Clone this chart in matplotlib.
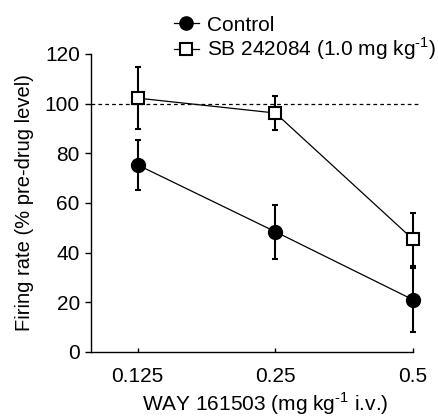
import matplotlib.pyplot as plt
from matplotlib.lines import Line2D

plt.rcParams["font.family"] = ["Liberation Sans", "DejaVu Sans"]
plt.rcParams["mathtext.fontset"] = "custom"
plt.rcParams["mathtext.rm"] = "Liberation Sans"

# -----------------------------
# Data
# -----------------------------
doses = ["0.125", "0.25", "0.5"]
control_mean = [75.3, 48.4, 21.0]
control_sem = [10.2, 10.9, 12.8]
sb_mean = [102.2, 96.2, 45.3]
sb_sem = [12.6, 7.0, 10.6]

FS = 15

# -----------------------------
# Plot
# -----------------------------
fig = plt.figure(figsize=(4.39, 4.18), dpi=100)
ax = fig.add_axes([0.207, 0.158, 0.734, 0.713])

x = list(range(1, len(doses) + 1))

ax.plot([0.66, 3.04], [100, 100], ls=(0, (3, 2.5)), color="black", lw=0.9, clip_on=False)

for mean, sem, fmt, mfc, ms, z in [
    (control_mean, control_sem, "-o", "black", 9.5, 3),
    (sb_mean, sb_sem, "-s", "white", 9, 4),
]:
    cont = ax.errorbar(x, mean, yerr=sem, fmt=fmt, color="black",
                       lw=0.9, elinewidth=1.5, capsize=2.2, capthick=1.5,
                       markersize=ms, mfc=mfc, mec="black", mew=1.5, zorder=z)
    arts = [cont.lines[0]] + list(cont.lines[1]) + list(cont.lines[2])
    for art in arts:
        art.set_clip_on(False)

ax.set_xlim(0.66, 3.0)
ax.set_ylim(0, 120)
ax.set_yticks([0, 20, 40, 60, 80, 100, 120])
ax.set_xticks(x)
ax.set_xticklabels(doses)
ax.tick_params(axis="y", direction="out", length=4, width=1, labelsize=FS, pad=4)
ax.tick_params(axis="x", direction="in", length=3, width=1, labelsize=FS, pad=11)

ax.spines["top"].set_visible(False)
ax.spines["right"].set_visible(False)
ax.spines["left"].set_linewidth(1)
ax.spines["bottom"].set_linewidth(1)

ax.set_xlabel(r"WAY 161503 (mg kg$^{\text{-}1}$ i.v.)", fontsize=FS, labelpad=3)
ax.xaxis.label.set_x(0.54)
ax.set_ylabel("Firing rate (% pre-drug level)", fontsize=14.5, labelpad=8)

handles = [
    Line2D([], [], color="black", lw=0.9, marker="o", markersize=9.5, mfc="black"),
    Line2D([], [], color="black", lw=0.9, marker="s", markersize=9, mfc="white", mew=1.5),
]
fig.legend(handles, ["Control", r"SB 242084 (1.0 mg kg$^{\text{-}1}$)"],
           loc="upper left", bbox_to_anchor=(0.365, 0.995), frameon=False,
           fontsize=FS, handlelength=1.2, handletextpad=0.4,
           labelspacing=0.05, borderpad=0.15)

plt.savefig("out.png", dpi=100)
plt.close()
